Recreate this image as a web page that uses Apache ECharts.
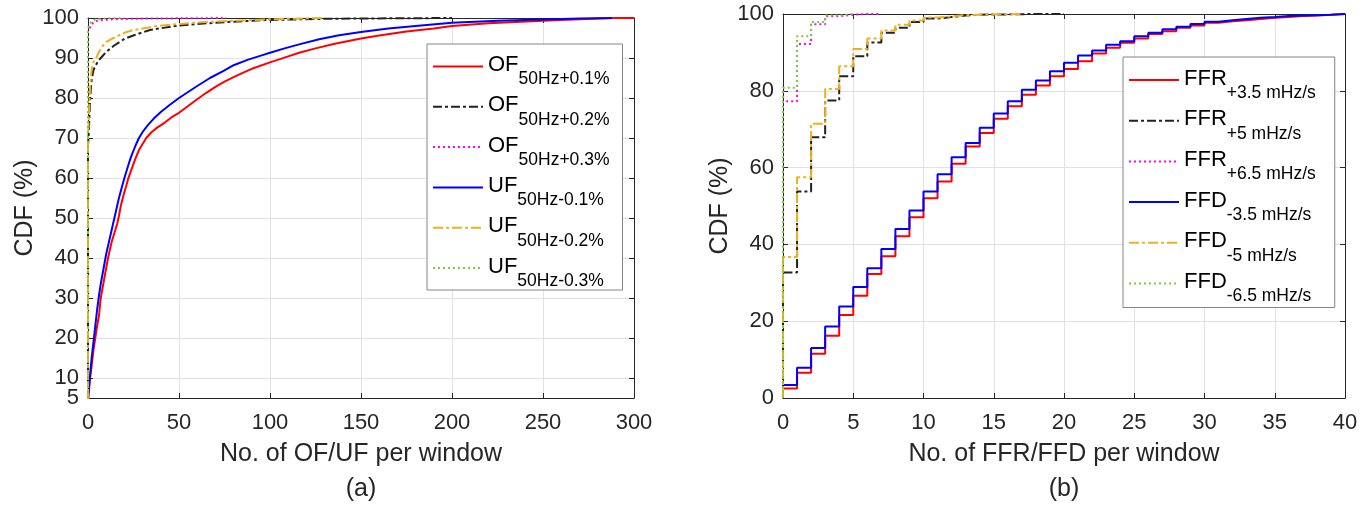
<!DOCTYPE html>
<html>
<head>
<meta charset="utf-8">
<script src="https://cdn.jsdelivr.net/npm/echarts@6/dist/echarts.min.js"></script>
<style>
  html, body { margin: 0; padding: 0; background: #ffffff; }
  #chart { width: 1372px; height: 505px; }
</style>
</head>
<body>
<div id="chart"></div>
<script>
// ---------- (a) CDF of OF/UF events per window: [count, CDF %] ----------
const ofPlus01 = [[0,0],[0,4],[1,9.5],[2,13],[3,17],[4,20],[5,23],[6,25.5],[7,30],[8,32.5],[9,35],[10,37.5],[11,40],[12,42],[13,44],[14,45.5],[15,47],[16,48.5],[17,50.5],[18,53],[19,54.8],[20,56.5],[21,58],[22,59.7],[24,62.3],[26,64.8],[28,67],[30,68.5],[32,70],[35,71.5],[38,72.6],[42,73.8],[46,75.2],[50,76.3],[55,78],[60,79.7],[65,81.3],[70,82.8],[75,84.1],[80,85.2],[85,86.3],[90,87.3],[100,88.9],[110,90.4],[116,91.3],[125,92.4],[135,93.5],[150,94.9],[160,95.6],[175,96.6],[190,97.4],[200,98],[220,98.7],[250,99.3],[270,99.7],[290,100],[300,100]];
const ofPlus02 = [[0,0],[0,68],[0.5,72],[1,78],[1.5,82],[2,84.5],[3,87],[4,88],[6,89.5],[8,90.5],[10,91.5],[14,93],[20,94.8],[26,95.8],[34,97],[48,98],[60,98.5],[76,99],[98,99.5],[130,99.8],[160,99.9],[200,100]];
const ofPlus03 = [[0,0],[0,96.5],[1,97.5],[2,98.5],[4,99.2],[8,99.5],[15,99.7],[30,99.85],[76,100]];
const ufMinus01 = [[0,0],[0,5],[1,10],[2,15],[3,19],[4,23],[5,27],[6,30.5],[7,33.5],[8,36],[9,38.5],[10,41],[11,43],[12,45],[13,47],[14,49],[15,51],[16,53],[17,55],[18,56.7],[19,58.4],[20,60],[21,61.5],[22,63],[23,64.4],[24,65.7],[26,68],[28,70],[30,71.5],[33,73.3],[36,74.8],[40,76.5],[45,78.3],[50,80],[55,81.5],[60,83],[67,85],[75,86.9],[80,88.2],[88,89.6],[95,90.6],[100,91.3],[108,92.4],[116,93.4],[127,94.7],[138,95.7],[150,96.5],[165,97.4],[180,98],[200,98.8],[225,99.3],[250,99.6],[270,99.85],[288,100]];
const ufMinus02 = [[0,0],[0,70],[0.5,76],[1,81],[1.5,85],[2,87],[3,89],[4.5,90],[6,91.5],[8,93],[10,94],[14,95],[20,96.3],[25,97],[38,98],[50,98.5],[65,99],[90,99.5],[110,99.8],[130,100]];
const ufMinus03 = [[0,0],[0,97.5],[1,98.5],[2,99.2],[4,99.6],[10,99.9],[20,100]];

const xTicksA = { min: 0, max: 300, interval: 50 };
const yTicksA = [5, 10, 20, 30, 40, 50, 60, 70, 80, 90, 100];

// ---------- (b) CDF of FFR/FFD events per window: value at count 0,1,2,... ----------
const ffrPlus35 = [2.5,6.6,11.5,16.2,21.6,26.6,32.3,36.9,42.1,47.1,52,56.4,61,65.5,69,72.7,76,79,81.4,83.8,85.7,87.7,89.7,91.2,92.5,93.6,94.8,95.5,96.4,97,97.7,98.1,98.4,98.7,99,99.2,99.5,99.6,99.8,100,100];
const ffrPlus5  = [32.7,53.8,67.9,77.5,83.8,89,92.6,95.1,96.4,97.9,98.8,99.2,99.6,99.8,99.9,99.9,99.95,100,100,100,100];
const ffrPlus65 = [77.3,92.2,97.3,99.4,99.8,100,100,100];
const ffdMinus35 = [3.4,7.9,13,18.6,23.8,28.9,33.8,38.8,44,48.8,53.8,58.3,62.7,66.4,70.4,74.1,77.3,80.3,82.7,85.1,87.3,89.2,90.5,92,92.9,94.2,95.1,96,96.7,97.4,98,98.4,98.7,99,99.2,99.5,99.6,99.7,99.8,100,100];
const ffdMinus5  = [36.7,57.5,71.4,80.5,86.4,90.9,93.6,95.7,97.2,98.3,99.1,99.4,99.7,99.8,99.9,99.95,100,100];
const ffdMinus65 = [80.8,94.2,97.9,99.6,100,100];

const xTicksB = { min: 0, max: 40, interval: 5 };
const yTicksB = { min: 0, max: 100, interval: 20 };

// legend names: main text | subscript
const namesA = ['OF|50Hz+0.1%', 'OF|50Hz+0.2%', 'OF|50Hz+0.3%', 'UF|50Hz-0.1%', 'UF|50Hz-0.2%', 'UF|50Hz-0.3%'];
const namesB = ['FFR|+3.5 mHz/s', 'FFR|+5 mHz/s', 'FFR|+6.5 mHz/s', 'FFD|-3.5 mHz/s', 'FFD|-5 mHz/s', 'FFD|-6.5 mHz/s'];

const FONT = '"Liberation Sans", Arial, Helvetica, sans-serif';
const INK = '#262626';
const GRIDLINE = '#e2e2e2';

const RED = '#ff0000', DARK = '#222222', MAGENTA = '#ff00ff', BLUE = '#0000ff', ORANGE = '#edb120', GREEN = '#7fcb36';
const styles = [
  { color: RED, type: 'solid', width: 2 },
  { color: DARK, type: [9, 3, 3, 3], width: 2 },
  { color: MAGENTA, type: [2, 3], width: 2 },
  { color: BLUE, type: 'solid', width: 2 },
  { color: ORANGE, type: [10, 3, 3, 3], width: 2 },
  { color: GREEN, type: [2, 3], width: 2 }
];

// cumulative stairs: start from zero at count 0, then one level per integer count
function stairs(values) {
  const pts = [[0, 0]];
  values.forEach((v, i) => pts.push([i, v]));
  return pts;
}

function lineSeries(name, data, st, xi, yi, step) {
  return {
    type: 'line', name: name, data: data,
    xAxisIndex: xi, yAxisIndex: yi,
    step: step || false,
    symbol: 'none', showSymbol: false,
    clip: true, animation: false,
    lineStyle: { color: st.color, type: st.type, width: st.width },
    itemStyle: { color: st.color },
    emphasis: { disabled: true }
  };
}

const seriesA = [ofPlus01, ofPlus02, ofPlus03, ufMinus01, ufMinus02, ufMinus03]
  .map((d, i) => lineSeries(namesA[i], d, styles[i], 0, 0));
const seriesB = [ffrPlus35, ffrPlus5, ffrPlus65, ffdMinus35, ffdMinus5, ffdMinus65]
  .map((d, i) => lineSeries(namesB[i], stairs(d), styles[i], 2, 2, 'end'));

const tickLabel = { color: INK, fontSize: 22, fontFamily: FONT };
const axisLineStyle = { show: true, onZero: false, lineStyle: { color: INK, width: 1 } };
const innerTick = { show: true, inside: true, length: 5, lineStyle: { color: INK } };

function mainX(gridIndex, t, title) {
  return {
    type: 'value', gridIndex: gridIndex, position: 'bottom',
    min: t.min, max: t.max, interval: t.interval,
    name: title, nameLocation: 'middle', nameGap: 44,
    nameTextStyle: { color: INK, fontSize: 25, fontFamily: FONT },
    axisLine: axisLineStyle,
    axisTick: innerTick,
    axisLabel: Object.assign({ margin: 14 }, tickLabel),
    splitLine: { show: true, lineStyle: { color: GRIDLINE, width: 1 } }
  };
}
function mirrorX(gridIndex, t) {
  return {
    type: 'value', gridIndex: gridIndex, position: 'top',
    min: t.min, max: t.max, interval: t.interval,
    axisLine: axisLineStyle,
    axisTick: innerTick,
    axisLabel: { show: false }, splitLine: { show: false }
  };
}
function yAxisDef(gridIndex, pos, range, tickValues, labelValues, withLabels) {
  const ax = {
    type: 'value', gridIndex: gridIndex, position: pos,
    min: range.min, max: range.max,
    axisLine: axisLineStyle,
    axisTick: Object.assign({}, innerTick),
    axisLabel: withLabels ? Object.assign({ margin: 9 }, tickLabel) : { show: false },
    splitLine: { show: withLabels, lineStyle: { color: GRIDLINE, width: 1 } }
  };
  if (range.interval) ax.interval = range.interval;
  if (tickValues) ax.axisTick.customValues = tickValues;
  if (labelValues && withLabels) ax.axisLabel.customValues = labelValues;
  if (withLabels) {
    ax.name = 'CDF (%)';
    ax.nameLocation = 'middle';
    ax.nameGap = 50;
    ax.nameTextStyle = { color: INK, fontSize: 25, fontFamily: FONT };
  }
  return ax;
}
// label-only axis for the bottom value of (a), which sits too close to "10" for a shared axis
function bottomLabelAxis(gridIndex, range, value) {
  return {
    type: 'value', gridIndex: gridIndex, position: 'left',
    min: range.min, max: range.max,
    axisLine: { show: false }, axisTick: { show: false }, splitLine: { show: false },
    axisLabel: Object.assign({ margin: 9, customValues: [value] }, tickLabel)
  };
}

function legendDef(names, left, top, pad, gap) {
  return {
    data: names, orient: 'vertical', left: left, top: top,
    itemWidth: 50, itemHeight: 1, itemGap: gap,
    padding: pad,
    icon: 'inherit',
    itemStyle: { opacity: 0 },
    backgroundColor: '#ffffff', borderColor: '#858585', borderWidth: 1, borderRadius: 0,
    selectedMode: false,
    formatter: function (name) {
      const parts = name.split('|');
      return '{m|' + parts[0] + '}{s|' + parts[1] + '}';
    },
    textStyle: {
      color: '#000000', fontFamily: FONT,
      rich: {
        m: { fontSize: 22, lineHeight: 43, fontFamily: FONT, color: '#000', verticalAlign: 'top', padding: [9, 0, 0, 0] },
        s: { fontSize: 17.5, lineHeight: 18, fontFamily: FONT, color: '#000', verticalAlign: 'top', padding: [25.5, 0, 0, 0] }
      }
    }
  };
}

const yRangeA = { min: 5, max: 100 };

const option = {
  backgroundColor: '#ffffff',
  animation: false,
  grid: [
    { left: 88, top: 18, width: 546, height: 380, containLabel: false },
    { left: 783, top: 14, width: 562, height: 384, containLabel: false }
  ],
  xAxis: [
    mainX(0, xTicksA, 'No. of OF/UF per window'),
    mirrorX(0, xTicksA),
    mainX(1, xTicksB, 'No. of FFR/FFD per window'),
    mirrorX(1, xTicksB)
  ],
  yAxis: [
    yAxisDef(0, 'left', yRangeA, yTicksA, yTicksA.slice(1), true),
    yAxisDef(0, 'right', yRangeA, yTicksA, null, false),
    yAxisDef(1, 'left', yTicksB, null, null, true),
    yAxisDef(1, 'right', yTicksB, null, null, false),
    bottomLabelAxis(0, yRangeA, yTicksA[0])
  ],
  legend: [
    legendDef(namesA, 427, 44, [1, 13, 0, 5], -3.2),
    legendDef(namesB, 1123, 57, [1.5, 19, 2, 5], -2.8)
  ],
  graphic: [
    { type: 'text', x: 361, y: 489, style: { text: '(a)', fill: INK, font: '25px ' + FONT, textAlign: 'center', textVerticalAlign: 'middle' } },
    { type: 'text', x: 1064, y: 489, style: { text: '(b)', fill: INK, font: '25px ' + FONT, textAlign: 'center', textVerticalAlign: 'middle' } }
  ],
  series: seriesA.concat(seriesB)
};

const chart = echarts.init(document.getElementById('chart'), null, { renderer: 'canvas', width: 1372, height: 505 });
chart.setOption(option);
</script>
</body>
</html>
